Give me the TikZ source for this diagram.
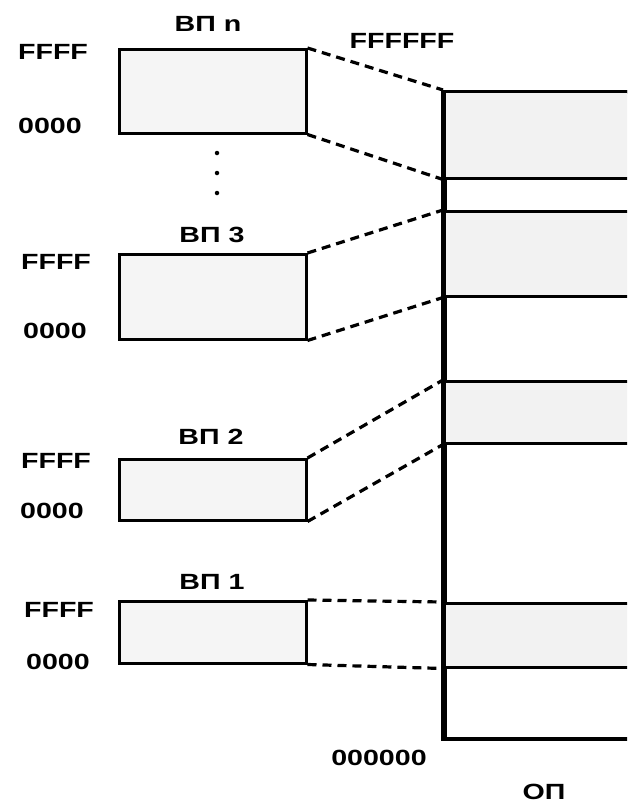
\documentclass[tikz,border=0pt]{standalone}
\usepackage{fontspec}
\newfontfamily\lab[FakeStretch=1.3]{Liberation Sans}
\tikzset{
  vbox/.style={draw, line width=2.5pt, fill=black!4, anchor=north west, minimum width=187pt, inner sep=0pt},
  band/.style={draw, line width=2.5pt, fill=black!5, anchor=north west, minimum width=220pt, inner sep=0pt},
  conn/.style={line width=3.2pt, dash pattern=on 9pt off 6pt},
  txt/.style={font=\lab\bfseries\fontsize{22}{25}\selectfont, inner sep=0pt},
  vdot/.style={circle, fill=black, inner sep=0pt, minimum size=4.5pt}
}
\begin{document}
\begin{tikzpicture}[x=1pt, y=-1pt]
\useasboundingbox (0,0) rectangle (627,806);
\clip (0,0) rectangle (627,806);
% main memory
\node[draw, line width=4pt, anchor=north west, minimum width=250pt, minimum height=647pt, inner sep=0pt] (op) at (443,90) {};
\node[band, minimum height=87pt] (bn) at (443,90) {};
\node[band, minimum height=85pt] (b3) at (443,210) {};
\node[band, minimum height=62pt] (b2) at (443,380) {};
\node[band, minimum height=64pt] (b1) at (443,602) {};
\draw[line width=4pt] (op.north west) -- (op.south west);
% virtual spaces
\node[vbox, minimum height=84pt] (vn) at (118,48) {};
\node[vbox, minimum height=85pt] (v3) at (118,253) {};
\node[vbox, minimum height=61pt] (v2) at (118,458) {};
\node[vbox, minimum height=62pt] (v1) at (118,600) {};
% connectors
\draw[conn] (vn.north east) -- (bn.north west);
\draw[conn] (vn.south east) -- (bn.south west);
\draw[conn] (v3.north east) -- (b3.north west);
\draw[conn] (v3.south east) -- (b3.south west);
\draw[conn] (v2.north east) -- (b2.north west);
\draw[conn] (v2.south east) -- (b2.south west);
\draw[conn] (v1.north east) -- (b1.north west);
\draw[conn] (v1.south east) -- (b1.south west);
% dots
\node[vdot] (d1) at (217,153) {};
\node[vdot] (d2) at (217,173) {};
\node[vdot] (d3) at (217,193) {};
% labels
\node[txt] (ln) at (208,24) {ВП n};
\node[txt] (l3) at (212,235) {ВП 3};
\node[txt] (l2) at (211,437) {ВП 2};
\node[txt] (l1) at (212,582) {ВП 1};
\node[txt] (fn) at (53,52) {FFFF};
\node[txt] (zn) at (50,126) {0000};
\node[txt] (f3) at (56,262) {FFFF};
\node[txt] (z3) at (55,331) {0000};
\node[txt] (f2) at (56,461) {FFFF};
\node[txt] (z2) at (52,511) {0000};
\node[txt] (f1) at (59,610) {FFFF};
\node[txt] (z1) at (58,662) {0000};
\node[txt] (ftop) at (402,41) {FFFFFF};
\node[txt] (zbot) at (379,758) {000000};
\node[txt] (lop) at (544,792) {ОП};
\end{tikzpicture}
\end{document}
